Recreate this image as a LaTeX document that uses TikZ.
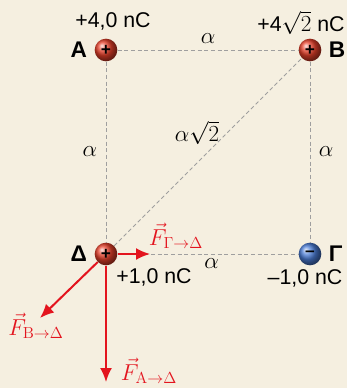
\documentclass[tikz,border=0pt]{standalone}
\usepackage[no-math]{fontspec}
\setmainfont{Liberation Sans}
\usetikzlibrary{arrows.meta, positioning}
\usepackage{xcolor}
\definecolor{paper}{HTML}{F5EFE0}
\definecolor{forcered}{HTML}{E3141E}
\definecolor{negblue}{HTML}{4A7CD6}
\definecolor{posred}{HTML}{E8402A}

\begin{document}
\begin{tikzpicture}[x=0.75pt,y=-0.75pt,font=\fontsize{16}{18}\selectfont,
    poscharge/.style={circle,minimum size=17pt,inner sep=0pt,ball color=posred,font=\bfseries\fontsize{13}{13}\selectfont},
    negcharge/.style={circle,minimum size=17pt,inner sep=0pt,ball color=negblue,font=\bfseries\fontsize{13}{13}\selectfont},
    grid/.style={gray!75,dash pattern=on 3pt off 2pt,line width=0.6pt},
    side/.style={text=black,font=\fontsize{17}{17}\selectfont},
    force/.style={forcered,line width=1.5pt,-{Latex[length=10.5pt,width=9pt]}},
    letter/.style={font=\bfseries\fontsize{17}{17}\selectfont},
    flabel/.style={forcered,font=\fontsize{17.5}{19}\selectfont}]
    \fill[paper](0,0)rectangle(347,388);
    \useasboundingbox(0,0)rectangle(347,388);
    % charges
    \node[poscharge](A)at(106,50){+};
    \node[poscharge](B)at(310,50){+};
    \node[poscharge](D)at(106,254){+};
    \node[negcharge](G)at(310,254){\raisebox{1pt}{--}};
    % sides of the square
    \draw[grid](A)--node[side,above=1pt]{$\alpha$}(B);
    \draw[grid](A)--node[side,left=3pt]{$\alpha$}(D);
    \draw[grid](B)--node[side,right=3pt]{$\alpha$}(G);
    \draw[grid](D)--node[side,below=0pt,pos=0.52]{$\alpha$}(G);
    \draw[grid](D)--(B);
    \node[side] at(197,133){$\alpha\sqrt{2}$};
    % names and charges
    \node[letter,left=2pt of A](nA){A};
    \node[letter,right=2pt of B](nB){B};
    \node[letter,left=2pt of D](nD){Δ};
    \node[letter,right=2pt of G](nG){Γ};
    \node(qA)at(113,21){+4,0 nC};
    \node[inner ysep=1pt](qB)at(301,23){+4$\sqrt{\mathrm{2}}$ nC};
    \node(qD)at(154,277){+1,0 nC};
    \node(qG)at(305,278){–1,0 nC};
    % forces on the charge at Delta
    \coordinate(tG)at(150,254);
    \coordinate(tB)at(40,318);
    \coordinate(tA)at(106,382);
    \draw[force](D)--(tG);
    \draw[force](D)--(tB);
    \draw[force](D)--(tA);
    \node[flabel](fG)at(176,236){$\vec{F}_{\mathrm{\Gamma\to\Delta}}$};
    \node[flabel](fB)at(36,326){$\vec{F}_{\mathrm{B\to\Delta}}$};
    \node[flabel](fA)at(149,371){$\vec{F}_{\mathrm{A\to\Delta}}$};
  \end{tikzpicture}
\end{document}
